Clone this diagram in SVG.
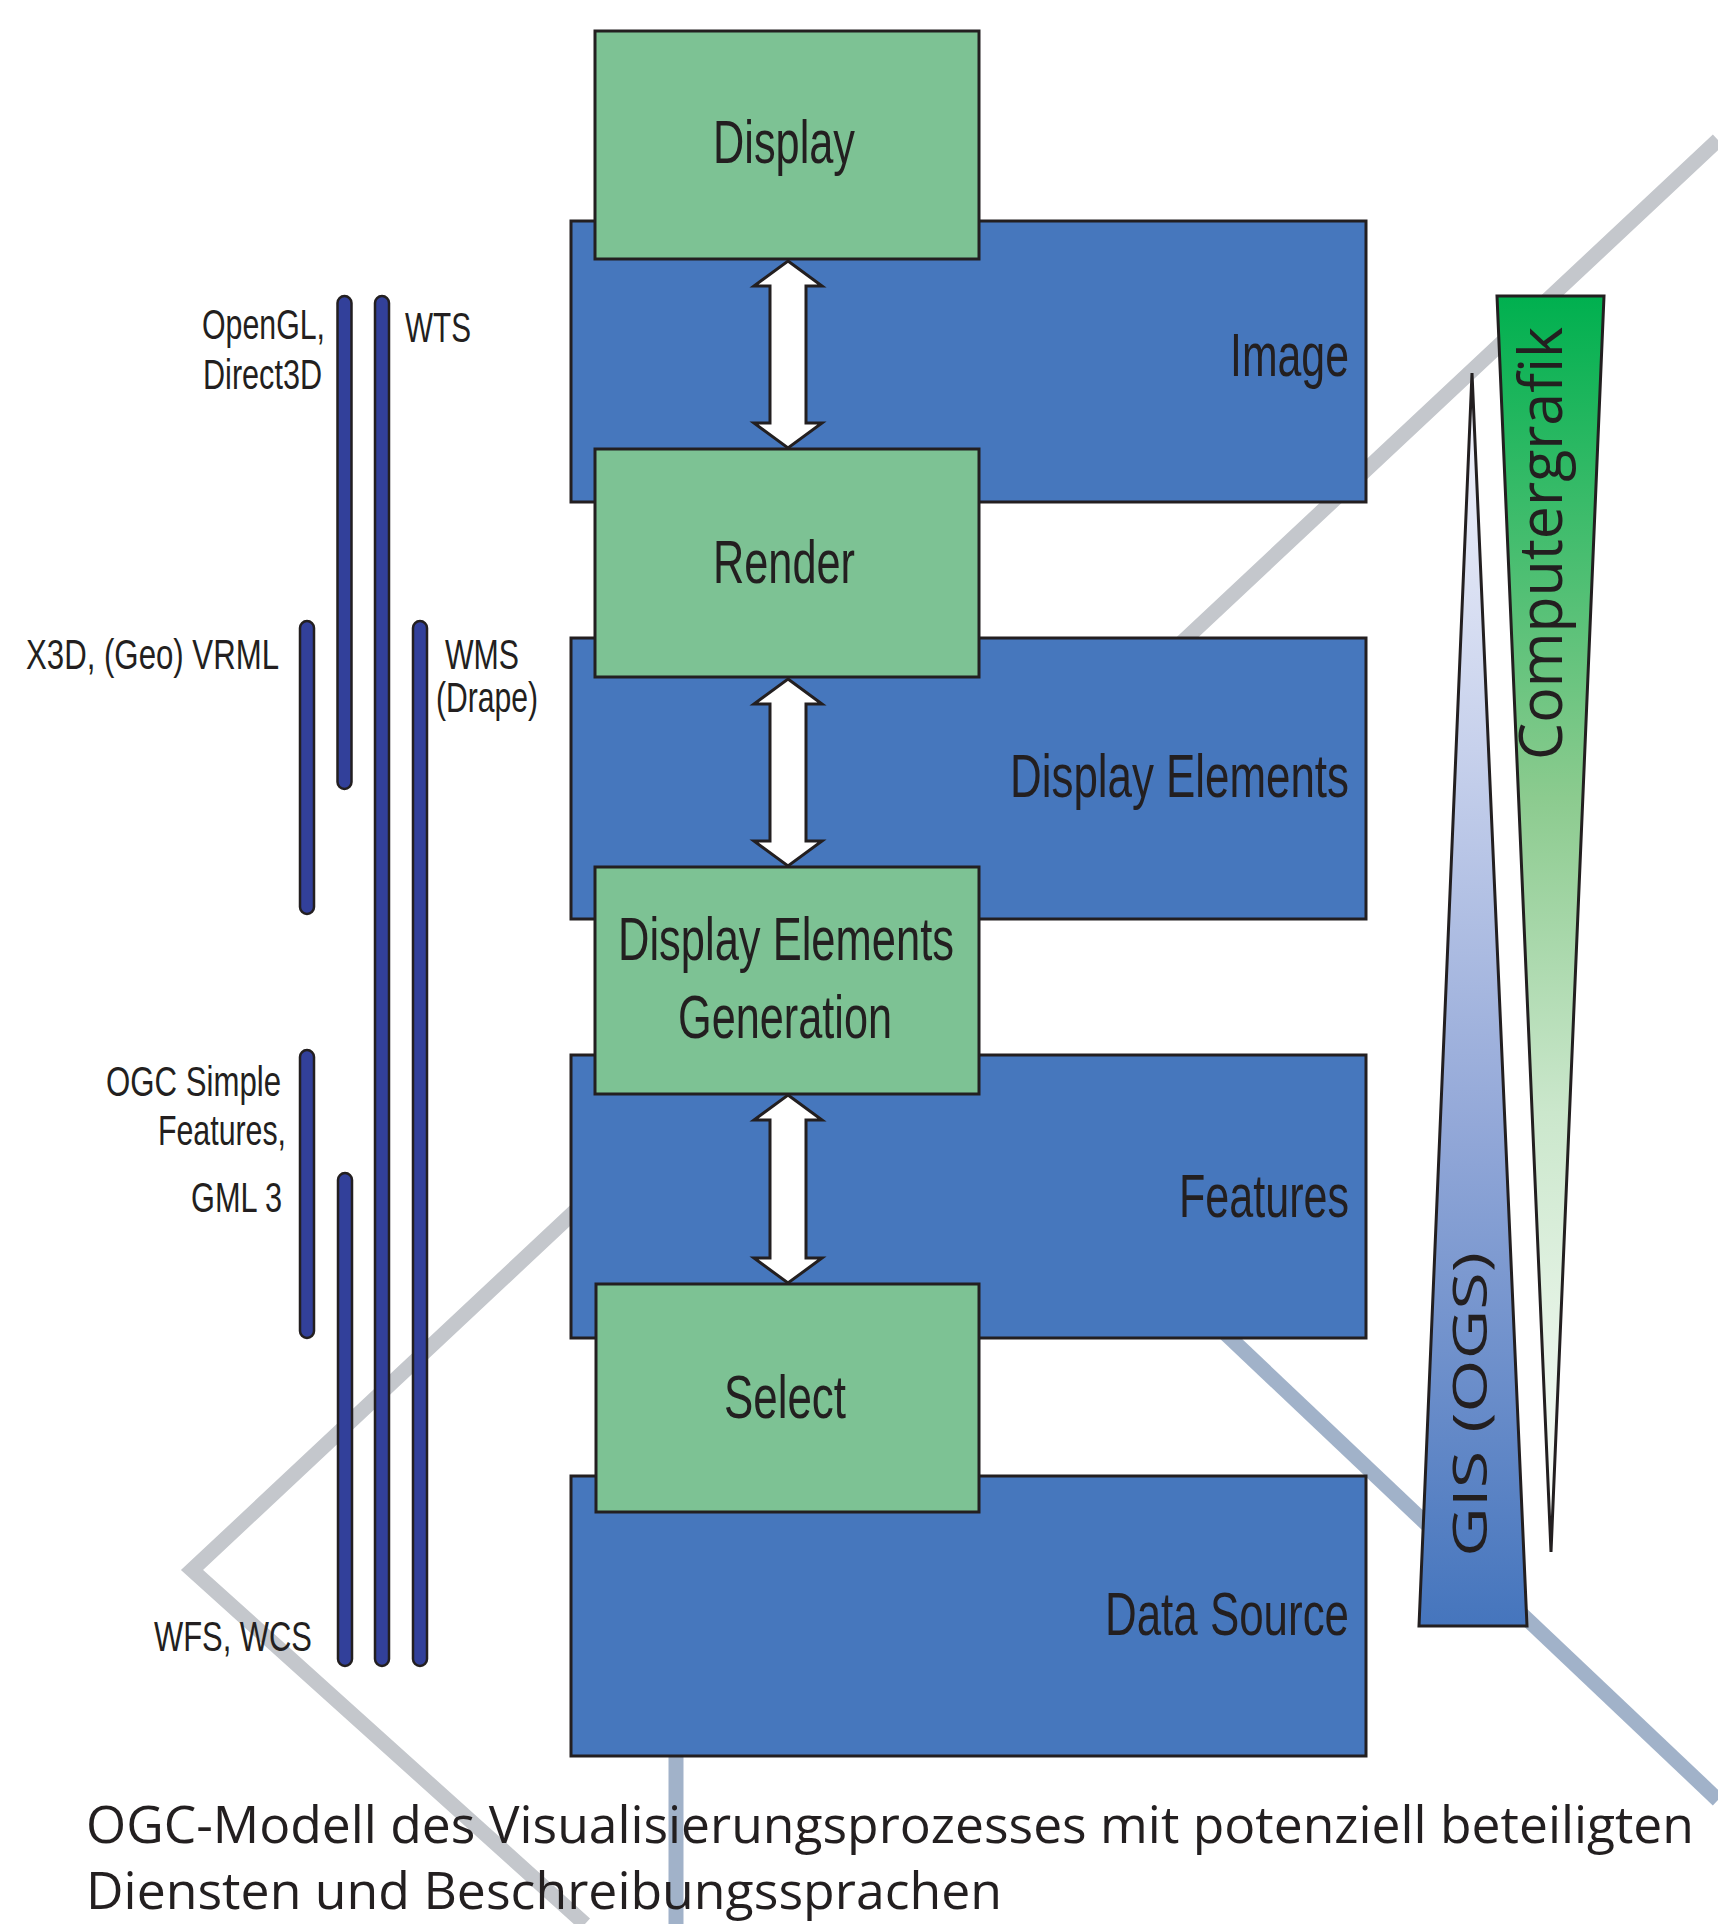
<svg xmlns="http://www.w3.org/2000/svg" width="1718" height="1924" viewBox="0 0 1718 1924">
<style>
.bg{fill:none;stroke-width:15;stroke-linecap:butt;stroke-linejoin:miter}
.gray{stroke:#c4c7cc}
.bgray{stroke:#a1b2c9}
.blue{fill:#4677bd;stroke:#231f20;stroke-width:3}
.green{fill:#7dc294;stroke:#231f20;stroke-width:3}
.arrow{fill:#ffffff;stroke:#231f20;stroke-width:3;stroke-linejoin:miter}
.bar{fill:#32409a;stroke:#231f20;stroke-width:2.5}
.tri{stroke:#231f20;stroke-width:3;stroke-linejoin:miter}
.cond{font-family:'Liberation Sans Narrow','Liberation Sans',Arial,sans-serif;fill:#231f20}
.big{font-size:62px}
.small{font-size:42px}
.myr{font-family:'Open Sans','Noto Sans','Liberation Sans',sans-serif;fill:#231f20}
.cap{font-size:52px;font-weight:500}
</style>
<defs>
<linearGradient id="gGreen" gradientUnits="userSpaceOnUse" x1="0" y1="296" x2="0" y2="1552">
<stop offset="0" stop-color="#00b04f"/>
<stop offset="0.4" stop-color="#8ccb8f"/>
<stop offset="0.65" stop-color="#cbe7cc"/>
<stop offset="1" stop-color="#ffffff"/>
</linearGradient>
<linearGradient id="gBlue" gradientUnits="userSpaceOnUse" x1="0" y1="373" x2="0" y2="1626">
<stop offset="0" stop-color="#f4f5fc"/>
<stop offset="0.3" stop-color="#c7d1ec"/>
<stop offset="0.6" stop-color="#93a8d8"/>
<stop offset="1" stop-color="#4575bd"/>
</linearGradient>
</defs>
<rect width="1718" height="1924" fill="#ffffff"/>
<g id="background-lines">
<polyline class="bg gray" points="1718,140 192,1570 585,1924"/>
<line class="bg bgray" x1="1000" y1="1120" x2="1718" y2="1800"/>
<line class="bg bgray" x1="676" y1="1700" x2="676" y2="1924"/>
</g>
<g id="layers">
<g id="image"><rect class="blue" x="571" y="221" width="795" height="281"/><text class="cond big" x="1349" y="376" text-anchor="end" textLength="119" lengthAdjust="spacingAndGlyphs">Image</text></g>
<g id="display-elements"><rect class="blue" x="571" y="638" width="795" height="281"/><text class="cond big" x="1349" y="797" text-anchor="end" textLength="339" lengthAdjust="spacingAndGlyphs">Display Elements</text></g>
<g id="features"><rect class="blue" x="571" y="1055" width="795" height="283"/><text class="cond big" x="1349" y="1217" text-anchor="end" textLength="170" lengthAdjust="spacingAndGlyphs">Features</text></g>
<g id="data-source"><rect class="blue" x="571" y="1476" width="795" height="280"/><text class="cond big" x="1349" y="1635" text-anchor="end" textLength="244" lengthAdjust="spacingAndGlyphs">Data Source</text></g>
</g>
<g id="processes">
<g id="display"><rect class="green" x="595" y="31" width="384" height="228"/><text class="cond big" x="784" y="163" text-anchor="middle" textLength="142" lengthAdjust="spacingAndGlyphs">Display</text></g>
<g id="render"><rect class="green" x="595" y="449" width="384" height="228"/><text class="cond big" x="784" y="583" text-anchor="middle" textLength="142" lengthAdjust="spacingAndGlyphs">Render</text></g>
<g id="deg"><rect class="green" x="595" y="867" width="384" height="227"/><text class="cond big" x="786" y="960" text-anchor="middle" textLength="336" lengthAdjust="spacingAndGlyphs">Display Elements</text><text class="cond big" x="785" y="1038" text-anchor="middle" textLength="214" lengthAdjust="spacingAndGlyphs">Generation</text></g>
<g id="select"><rect class="green" x="596" y="1284" width="383" height="228"/><text class="cond big" x="785" y="1418" text-anchor="middle" textLength="122" lengthAdjust="spacingAndGlyphs">Select</text></g>
</g>
<g id="connectors">
<polygon class="arrow" points="788,261 822,286 806,286 806,423 822,423 788,448 754,423 770,423 770,286 754,286"/>
<polygon class="arrow" points="788,679 822,704 806,704 806,841 822,841 788,866 754,841 770,841 770,704 754,704"/>
<polygon class="arrow" points="788,1095 822,1120 806,1120 806,1258 822,1258 788,1283 754,1258 770,1258 770,1120 754,1120"/>
</g>
<g id="standards">
<rect class="bar" x="337.5" y="296" width="14" height="493" rx="7"/>
<rect class="bar" x="375" y="296" width="14" height="1370" rx="7"/>
<rect class="bar" x="300" y="621" width="14" height="293" rx="7"/>
<rect class="bar" x="413" y="621" width="14" height="1045" rx="7"/>
<rect class="bar" x="300" y="1050" width="14" height="288" rx="7"/>
<rect class="bar" x="338" y="1173" width="14" height="493" rx="7"/>
<text class="cond small" x="325" y="339" text-anchor="end" textLength="123" lengthAdjust="spacingAndGlyphs">OpenGL,</text>
<text class="cond small" x="322" y="389" text-anchor="end" textLength="119" lengthAdjust="spacingAndGlyphs">Direct3D</text>
<text class="cond small" x="405" y="342" textLength="66" lengthAdjust="spacingAndGlyphs">WTS</text>
<text class="cond small" x="279" y="669" text-anchor="end" textLength="253" lengthAdjust="spacingAndGlyphs">X3D, (Geo) VRML</text>
<text class="cond small" x="445" y="669" textLength="74" lengthAdjust="spacingAndGlyphs">WMS</text>
<text class="cond small" x="436" y="712" textLength="102" lengthAdjust="spacingAndGlyphs">(Drape)</text>
<text class="cond small" x="281" y="1096" text-anchor="end" textLength="175" lengthAdjust="spacingAndGlyphs">OGC Simple</text>
<text class="cond small" x="286" y="1145" text-anchor="end" textLength="128" lengthAdjust="spacingAndGlyphs">Features,</text>
<text class="cond small" x="282" y="1212" text-anchor="end" textLength="91" lengthAdjust="spacingAndGlyphs">GML 3</text>
<text class="cond small" x="312" y="1651" text-anchor="end" textLength="158" lengthAdjust="spacingAndGlyphs">WFS, WCS</text>
</g>
<g id="computergrafik">
<polygon class="tri" fill="url(#gGreen)" points="1497,296 1604,296 1551,1552"/>
<text class="myr" font-size="60" transform="translate(1562,760) rotate(-90)" textLength="433" lengthAdjust="spacingAndGlyphs">Computergrafik</text>
</g>
<g id="gis">
<polygon class="tri" fill="url(#gBlue)" points="1472,373 1527,1626 1419,1626"/>
<text class="myr" font-size="47" transform="translate(1487,1557) rotate(-90)" textLength="305" lengthAdjust="spacingAndGlyphs">GIS (OGS)</text>
</g>
<g id="caption">
<text class="myr cap" x="86" y="1843" textLength="1608" lengthAdjust="spacingAndGlyphs">OGC-Modell des Visualisierungsprozesses mit potenziell beteiligten</text>
<text class="myr cap" x="86" y="1909" textLength="916" lengthAdjust="spacingAndGlyphs">Diensten und Beschreibungssprachen</text>
</g>
</svg>
